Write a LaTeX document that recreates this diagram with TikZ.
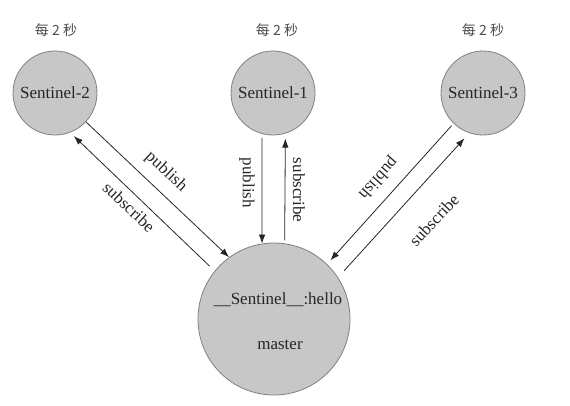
\documentclass[tikz,border=0pt]{standalone}
\usepackage{fontspec}
\setmainfont{Liberation Serif}
\newfontfamily\cjkfont{Noto Sans CJK SC}
\usetikzlibrary{arrows.meta}
\begin{document}
\begin{tikzpicture}[x=1pt,y=-1pt,
  sentinel/.style={circle, draw=black!50, fill=black!22, line width=0.8pt, minimum size=84pt, inner sep=0pt, text=black!85, font=\fontsize{17}{20}\selectfont},
  masternode/.style={circle, draw=black!50, fill=black!22, line width=0.8pt, minimum size=152pt, inner sep=0pt},
  lbl/.style={font=\fontsize{17}{20}\selectfont, text=black!85, inner sep=0pt},
  every2/.style={font=\cjkfont\fontsize{14}{16}\selectfont, text=black!70, inner sep=0pt},
  conn/.style={draw=black!85, line width=0.8pt, -{Latex[length=9pt,width=6.5pt]}}
]
\useasboundingbox (0,0) rectangle (570,405);

% sentinel nodes
\node[sentinel] (s2) at (55,93) {Sentinel-2};
\node[sentinel] (s1) at (273,93) {Sentinel-1};
\node[sentinel] (s3) at (483,93) {Sentinel-3};
\node[masternode] (m) at (274,319) {};
\node[lbl] (hello) at (278,300) {\_\_Sentinel\_\_:hello};
\node[lbl] (mastertxt) at (280,345) {master};

% period labels
\node[every2] (t2) at (56,30) {每 2 秒};
\node[every2] (t1) at (277,30) {每 2 秒};
\node[every2] (t3) at (483,30) {每 2 秒};

% Sentinel-2 connectors
\draw[conn] (s2.-43) -- (m.126);
\draw[conn, shorten <=7pt, shorten >=5pt] (m.141) -- (s2.-69);
\node[lbl, rotate=-43] (p2) at (166,172) {publish};
\node[lbl, rotate=-43] (sb2) at (129,207) {subscribe};

% Sentinel-1 connectors
\draw[conn, shorten <=4pt] (s1.-105) -- (m.99);
\draw[conn, shorten <=3pt, shorten >=5pt] (m.82) -- (s1.-73);
\node[lbl, rotate=-90] (p1) at (247,183) {publish};
\node[lbl, rotate=-90] (sb1) at (299,190) {subscribe};

% Sentinel-3 connectors
\draw[conn, shorten <=3pt, shorten >=5pt] (s3.-134) -- (m.46);
\draw[conn, shorten <=9pt, shorten >=7pt] (m.33.5) -- (s3.-109);
\node[lbl, rotate=228] (p3) at (378,178) {publish};
\node[lbl, rotate=47] (sb3) at (434,220) {subscribe};
\end{tikzpicture}
\end{document}
